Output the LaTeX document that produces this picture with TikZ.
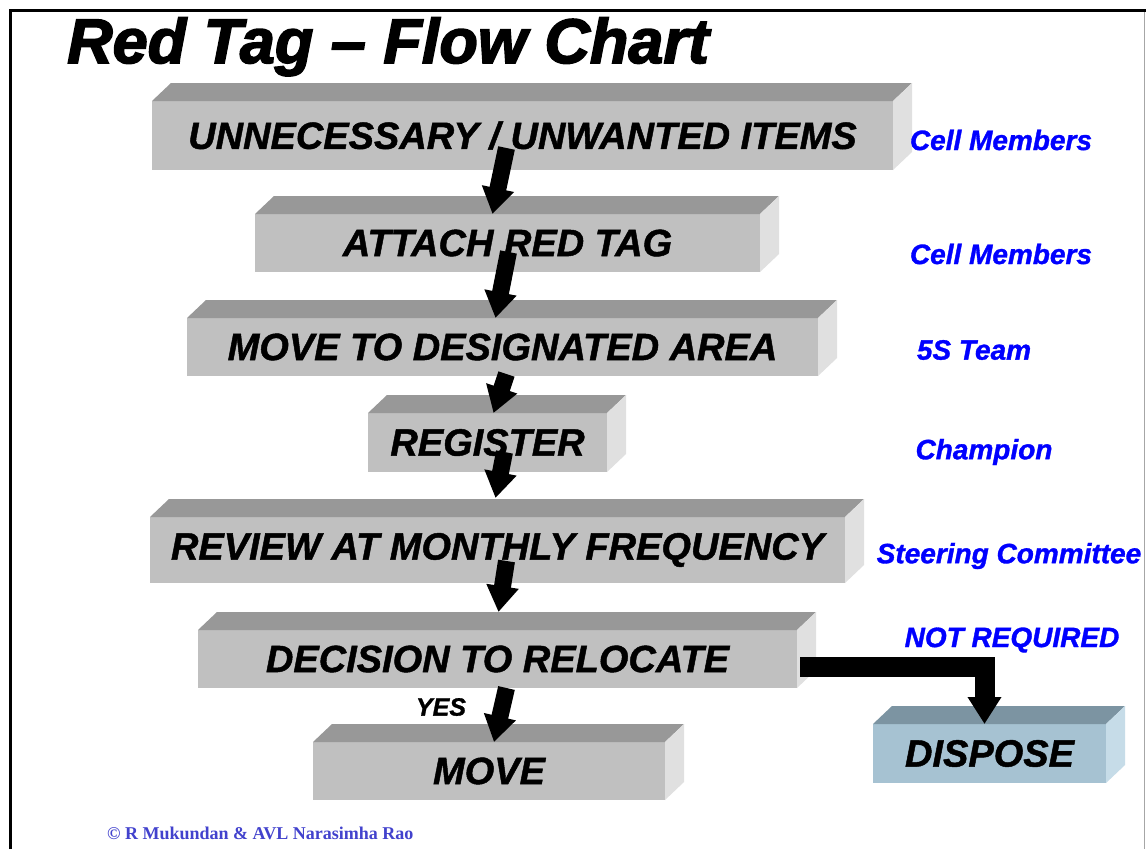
\documentclass[tikz,border=0pt]{standalone}
\usepackage{fontspec}
\setmainfont{Liberation Sans}[BoldItalicFeatures={FakeBold=1.2}]
\newfontfamily\titlefont{Liberation Sans}[BoldItalicFeatures={FakeBold=2.6}]
\newfontfamily\creditfont{Liberation Serif}
\usetikzlibrary{arrows.meta,calc}

\definecolor{faceGray}{RGB}{192,192,192}
\definecolor{topGray}{RGB}{152,152,152}
\definecolor{sideGray}{RGB}{224,224,224}
\definecolor{faceBlue}{RGB}{166,194,210}
\definecolor{topBlue}{RGB}{124,148,162}
\definecolor{sideBlue}{RGB}{198,220,232}
\definecolor{roleBlue}{RGB}{0,0,255}
\definecolor{creditBlue}{RGB}{66,66,205}

\tikzset{
  slab/.style={inner sep=0pt, outer sep=0pt,
    font=\fontsize{38}{40}\selectfont\bfseries\itshape},
  role/.style={text=roleBlue, inner sep=0pt,
    font=\fontsize{28}{30}\selectfont\bfseries\itshape},
  flowarrow/.style={draw=black, line width=17pt,
    -{Triangle[width=31pt,length=26pt]}},
  sidearrow/.style={draw=black, line width=20pt, line join=miter,
    -{Triangle[width=32pt,length=27pt]}},
}

% \drawslab{name}{x1}{y1}{x2}{y2}{text}{front}{top}{side}
% front face from (x1,y1) to (x2,y2), with a top and a right side face
\newcommand\drawslab[9]{%
  \node[slab, fill=#7, minimum width={(#4-#2)*1pt},
        minimum height={(#5-#3)*1pt}] (#1) at ({(#2+#4)/2},{(#3+#5)/2}) {#6};
  \fill[#8] (#1.north west) -- ++(19,-18) -- ($(#1.north east)+(19,-18)$)
            -- (#1.north east) -- cycle;
  \fill[#9] (#1.north east) -- ++(19,-18) -- ($(#1.south east)+(19,-18)$)
            -- (#1.south east) -- cycle;
}

\begin{document}
\begin{tikzpicture}[x=1pt, y=-1pt]
  \useasboundingbox (0,0) rectangle (1146,849);
  \fill[white] (0,0) rectangle (1146,849);

  % frame
  \draw[line width=3pt] (10,849) -- (10,10) -- (1146,10);
  \draw[black!35, line width=1pt] (1144.5,12) -- (1144.5,849);

  % title
  \node[anchor=base west, inner sep=0pt,
        font=\titlefont\fontsize{63}{65}\selectfont\bfseries\itshape]
        (title) at (67,63) {Red Tag – Flow Chart};

  % process steps
  \drawslab{b1}{152}{101}{893}{170}{UNNECESSARY / UNWANTED ITEMS}{faceGray}{topGray}{sideGray}
  \drawslab{b2}{255}{214}{760}{272}{ATTACH RED TAG}{faceGray}{topGray}{sideGray}
  \drawslab{b3}{187}{318}{818}{376}{MOVE TO DESIGNATED AREA}{faceGray}{topGray}{sideGray}
  \drawslab{b4}{368}{413}{607}{472}{REGISTER}{faceGray}{topGray}{sideGray}
  \drawslab{b5}{150}{517}{845}{583}{REVIEW AT MONTHLY FREQUENCY}{faceGray}{topGray}{sideGray}
  \drawslab{b6}{198}{630}{797}{688}{DECISION TO RELOCATE}{faceGray}{topGray}{sideGray}
  \drawslab{b7}{313}{742}{665}{800}{MOVE}{faceGray}{topGray}{sideGray}
  \drawslab{dsp}{873}{724}{1106}{783}{DISPOSE}{faceBlue}{topBlue}{sideBlue}

  % responsibilities
  \node[role] (r1) at (1001,140) {Cell Members};
  \node[role] (r2) at (1001,254) {Cell Members};
  \node[role] (r3) at (974,350) {5S Team};
  \node[role] (r4) at (984,452) {Champion};
  \node[role] (r5) at (1009,556) {Steering Committee};
  \node[role] (r6) at (1012,640) {NOT REQUIRED};
  \node[inner sep=0pt, font=\fontsize{25}{27}\selectfont\bfseries\itshape]
        (yes) at (441,707) {YES};

  % arrow end points
  \coordinate (a1s) at ($(b1.south)+(-16,-22)$);
  \coordinate (a1e) at ($(b2.north)+(-15,0)$);
  \coordinate (a2s) at ($(b2.south)+(1,-20)$);
  \coordinate (a2e) at ($(b3.north)+(-7,0)$);
  \coordinate (a3s) at ($(b3.south)+(4,-2)$);
  \coordinate (a3e) at ($(b4.north)+(6,0)$);
  \coordinate (a4s) at ($(b4.south)+(17,-20)$);
  \coordinate (a4e) at ($(b5.north)+(-2,-19)$);
  \coordinate (a5s) at ($(b5.south)+(9,-22)$);
  \coordinate (a5e) at ($(b6.north)+(1,-18)$);
  \coordinate (a6s) at ($(b6.south)+(9,0)$);
  \coordinate (a6e) at ($(b7.north)+(5,0)$);
  \coordinate (a7s) at ($(b6.east)+(3,8)$);
  \coordinate (a7e) at ($(dsp.north)+(-5,0)$);

  % flow arrows
  \draw[flowarrow] (a1s) -- (a1e);
  \draw[flowarrow] (a2s) -- (a2e);
  \draw[flowarrow] (a3s) -- (a3e);
  \draw[flowarrow] (a4s) -- (a4e);
  \draw[flowarrow] (a5s) -- (a5e);
  \draw[flowarrow] (a6s) -- (a6e);
  \draw[sidearrow] (a7s) -| (a7e);

  % credit line
  \node[anchor=base west, inner sep=0pt, text=creditBlue,
        font=\creditfont\fontsize{18}{20}\selectfont\bfseries]
        (credit) at (107,839) {© R Mukundan \& AVL Narasimha Rao};
\end{tikzpicture}
\end{document}
